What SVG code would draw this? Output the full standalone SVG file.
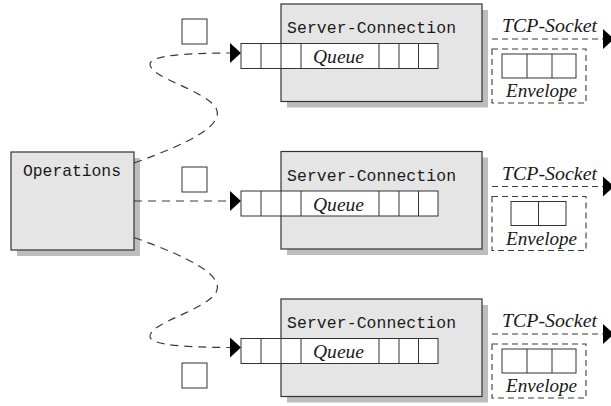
<svg xmlns="http://www.w3.org/2000/svg" width="611" height="406" viewBox="0 0 611 406">
<defs>
<style>
.box{fill:#e5e5e5;stroke:#333;stroke-width:1.2}
.shadow{fill:#bdbdbd}
.cell{fill:#fff;stroke:#333;stroke-width:1}
.ln{fill:none;stroke:#333;stroke-width:1}
.mono{font-family:"Liberation Mono","DejaVu Sans Mono",monospace;font-size:16.4px;fill:#1a1a1a}
.it{font-family:"Liberation Serif","DejaVu Serif",serif;font-style:italic;font-size:18px;fill:#1a1a1a}
.conn{fill:none;stroke:#3a3a3a;stroke-width:1.2;stroke-dasharray:8 6}
.sock{fill:none;stroke:#3a3a3a;stroke-width:1.1;stroke-dasharray:6 4}
</style>
<marker id="arr" markerUnits="userSpaceOnUse" markerWidth="12" markerHeight="21" refX="0" refY="10" orient="auto" viewBox="0 0 12 21"><path d="M0,0 L11,10 L0,20 z" fill="#000"/></marker>
</defs>

<g id="operations">
 <rect class="shadow" x="17" y="158" width="123" height="98"/>
 <rect class="box" x="11" y="152" width="123" height="98"/>
 <text class="mono" x="23" y="176" textLength="98">Operations</text>
</g>

<g id="connectors">
 <path class="conn" d="M134,163 C190,143 225,125 216,108 C205,90 150,78 150,64 C150,55 190,53 230,53" marker-end="url(#arr)"/>
 <path class="conn" d="M134,201 H230" marker-end="url(#arr)"/>
 <path class="conn" d="M134,237.5 C190,257.5 225,275.5 216,292.5 C205,310.5 150,322.5 150,336.5 C150,345.5 190,347.5 230,347.5" marker-end="url(#arr)"/>
 <path class="sock" d="M482,39 H603" marker-end="url(#arr)"/>
 <path class="sock" d="M482,186.5 H603" marker-end="url(#arr)"/>
 <path class="sock" d="M482,334 H603" marker-end="url(#arr)"/>
 <text class="it" x="502" y="32" textLength="95" lengthAdjust="spacingAndGlyphs">TCP-Socket</text>
 <text class="it" x="502" y="179.5" textLength="95" lengthAdjust="spacingAndGlyphs">TCP-Socket</text>
 <text class="it" x="502" y="327" textLength="95" lengthAdjust="spacingAndGlyphs">TCP-Socket</text>
</g>

<g id="msg1"><rect class="cell" x="182" y="19" width="25" height="25"/></g>
<g id="msg2"><rect class="cell" x="182" y="167" width="25" height="25"/></g>
<g id="msg3"><rect class="cell" x="182" y="363" width="25" height="25"/></g>

<g id="server1">
 <rect class="shadow" x="287" y="10" width="201" height="97.5"/>
 <rect class="box" x="281" y="4" width="201" height="97.5"/>
 <text class="mono" x="287" y="33" textLength="169">Server-Connection</text>
</g>
<g id="queue1">
 <rect class="cell" x="241" y="43.5" width="197" height="25"/>
 <path class="ln" d="M261,43.5V68.5M281,43.5V68.5M301,43.5V68.5M379,43.5V68.5M399,43.5V68.5M418.5,43.5V68.5"/>
 <text class="it" x="313" y="63" textLength="51" lengthAdjust="spacingAndGlyphs">Queue</text>
</g>
<g id="envelope1">
 <rect class="sock" x="492" y="49" width="94" height="54"/>
 <rect class="cell" x="502" y="54" width="74" height="24"/>
 <path class="ln" d="M527,54V78M552,54V78"/>
 <text class="it" x="506" y="97" textLength="71" lengthAdjust="spacingAndGlyphs">Envelope</text>
</g>

<g id="server2">
 <rect class="shadow" x="287" y="157.5" width="201" height="97.5"/>
 <rect class="box" x="281" y="151.5" width="201" height="97.5"/>
 <text class="mono" x="287" y="180.5" textLength="169">Server-Connection</text>
</g>
<g id="queue2">
 <rect class="cell" x="241" y="191" width="197" height="25"/>
 <path class="ln" d="M261,191V216M281,191V216M301,191V216M379,191V216M399,191V216M418.5,191V216"/>
 <text class="it" x="313" y="210.5" textLength="51" lengthAdjust="spacingAndGlyphs">Queue</text>
</g>
<g id="envelope2">
 <rect class="sock" x="492" y="196.5" width="94" height="54"/>
 <rect class="cell" x="511" y="201.5" width="55" height="24"/>
 <path class="ln" d="M538.5,201.5V225.5"/>
 <text class="it" x="506" y="244.5" textLength="71" lengthAdjust="spacingAndGlyphs">Envelope</text>
</g>

<g id="server3">
 <rect class="shadow" x="287" y="305" width="201" height="97.5"/>
 <rect class="box" x="281" y="299" width="201" height="97.5"/>
 <text class="mono" x="287" y="328" textLength="169">Server-Connection</text>
</g>
<g id="queue3">
 <rect class="cell" x="241" y="338.5" width="197" height="25"/>
 <path class="ln" d="M261,338.5V363.5M281,338.5V363.5M301,338.5V363.5M379,338.5V363.5M399,338.5V363.5M418.5,338.5V363.5"/>
 <text class="it" x="313" y="358" textLength="51" lengthAdjust="spacingAndGlyphs">Queue</text>
</g>
<g id="envelope3">
 <rect class="sock" x="492" y="344" width="94" height="54"/>
 <rect class="cell" x="502" y="349" width="74" height="24"/>
 <path class="ln" d="M527,349V373M552,349V373"/>
 <text class="it" x="506" y="392" textLength="71" lengthAdjust="spacingAndGlyphs">Envelope</text>
</g>
</svg>
